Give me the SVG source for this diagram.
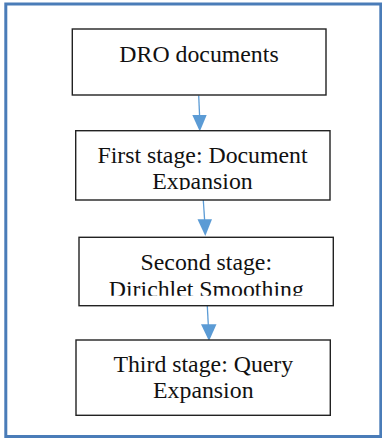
<svg xmlns="http://www.w3.org/2000/svg" width="382" height="438" viewBox="0 0 382 438">
<style>
.box{fill:#fff;stroke:#222;stroke-width:1.4}
.t{font-family:"Liberation Serif","Times New Roman",serif;font-size:23.8px;fill:#111;text-anchor:middle}
.ln{stroke:#5b9bd5;stroke-width:1.3;fill:none}
.hd{fill:#5b9bd5}
</style>
<defs>
<clipPath id="c2"><rect x="75" y="130" width="256" height="60"/></clipPath>
<clipPath id="c3"><rect x="79" y="237" width="255" height="58.7"/></clipPath>
</defs>
<rect x="5.8" y="4" width="375" height="432.5" fill="#fff" stroke="#4a7cb8" stroke-width="3"/>
<g id="connectors">
<line class="ln" x1="198.7" y1="95.5" x2="199.6" y2="116"/>
<polygon class="hd" points="192.3,115 206.7,115 199.8,131.5"/>
<line class="ln" x1="203.3" y1="200" x2="204.6" y2="220"/>
<polygon class="hd" points="197.5,219.3 212,219.3 205.3,236"/>
<line class="ln" x1="207.3" y1="306" x2="208.3" y2="325"/>
<polygon class="hd" points="201,324.3 216.5,324.3 209,341"/>
</g>
<g id="n1">
<rect class="box" x="72.3" y="29" width="253.7" height="66"/>
<text class="t" x="199" y="62.3">DRO documents</text>
</g>
<g id="n2">
<rect class="box" x="75.7" y="130.7" width="254.3" height="69.3"/>
<g clip-path="url(#c2)">
<text class="t" x="202.5" y="162.7">First stage: Document</text>
<text class="t" x="202.5" y="189.3">Expansion</text>
</g>
</g>
<g id="n3">
<rect class="box" x="79" y="237.3" width="254.3" height="68.4"/>
<g clip-path="url(#c3)">
<text class="t" x="206.3" y="270">Second stage:</text>
<text class="t" x="206.3" y="296.6">Dirichlet Smoothing</text>
</g>
</g>
<g id="n4">
<rect class="box" x="76" y="340" width="254.3" height="75.3"/>
<text class="t" x="203.3" y="371.7">Third stage: Query</text>
<text class="t" x="203.3" y="398.3">Expansion</text>
</g>
</svg>
